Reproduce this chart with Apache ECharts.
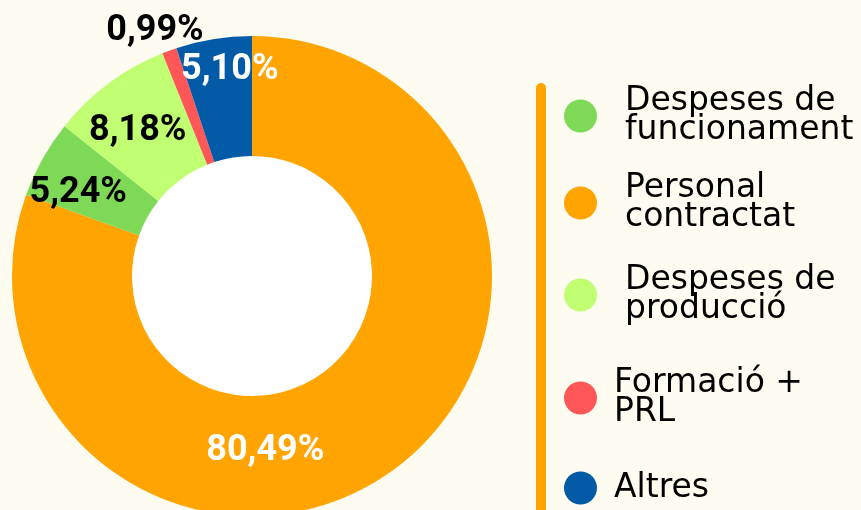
<!DOCTYPE html>
<html>
<head>
<meta charset="utf-8">
<script src="https://cdn.jsdelivr.net/npm/echarts@6/dist/echarts.min.js"></script>
<style>
  html, body { margin: 0; padding: 0; background: #fefcf1; }
  #main { width: 861px; height: 510px; }
</style>
</head>
<body>
<div id="main"></div>
<script>
// slices, clockwise from 12 o'clock
const categories = ['Personal contractat', 'Despeses de funcionament', 'Despeses de producció', 'Formació + PRL', 'Altres']
const values = [80.49, 5.24, 8.18, 0.99, 5.10]
const colors = ['#ffa400', '#7ed957', '#c1ff72', '#ff5757', '#035aa6']
// legend is listed in a different order
const legendOrder = ['Despeses de funcionament', 'Personal contractat', 'Despeses de producció', 'Formació + PRL', 'Altres']
const legendText = ['Despeses de\nfuncionament', 'Personal\ncontractat', 'Despeses de\nproducció', 'Formació +\nPRL', 'Altres']

const labelColor = ['#fff', '#000', '#000', '#000', '#fff']
const labelOffset = [[-92, 25], [-14, 6], [-5, 2], [-34, -73], [7, -25]]

const legendCy = [114, 201, 293, 396, 488]
const legendPad = [23, 23, 23, 12, 12]

const chart = echarts.init(document.getElementById('main'))

const legends = legendOrder.map((name, i) => {
  const lines = legendText[i].split('\n').length
  const h = Math.max(33, lines * 29)
  return {
    data: [name],
    left: 564,
    top: legendCy[i] - h / 2,
    padding: 0,
    orient: 'vertical',
    icon: 'circle',
    itemWidth: 33,
    itemHeight: 33,
    selectedMode: false,
    formatter: () => legendText[i],
    textStyle: {
      fontFamily: 'DejaVu Sans',
      fontSize: 33,
      lineHeight: 29,
      color: '#000',
      padding: [0, 0, 0, legendPad[i]]
    }
  }
})

chart.setOption({
  backgroundColor: '#fefcf1',
  animation: false,
  legend: legends,
  graphic: [
    {
      type: 'line',
      shape: { x1: 541, y1: 88, x2: 541, y2: 530 },
      style: { stroke: '#ffa400', lineWidth: 10, lineCap: 'round' }
    }
  ],
  series: [
    {
      type: 'pie',
      silent: true,
      center: [252, 276],
      radius: [0, 120],
      label: { show: false },
      labelLine: { show: false },
      itemStyle: { color: '#ffffff' },
      data: [{ value: 1, name: 'hole' }]
    },
    {
      type: 'pie',
      center: [252, 276],
      radius: [120, 240],
      startAngle: 90,
      clockwise: true,
      avoidLabelOverlap: false,
      labelLine: { show: false },
      data: categories.map((name, i) => ({
        name: name,
        value: values[i],
        itemStyle: { color: colors[i] },
        label: {
          show: true,
          position: 'inside',
          offset: labelOffset[i],
          color: labelColor[i],
          fontFamily: 'Roboto',
          fontWeight: 'bold',
          fontSize: 36,
          formatter: p => p.value.toFixed(2).replace('.', ',') + '%'
        }
      }))
    }
  ]
})
</script>
</body>
</html>
